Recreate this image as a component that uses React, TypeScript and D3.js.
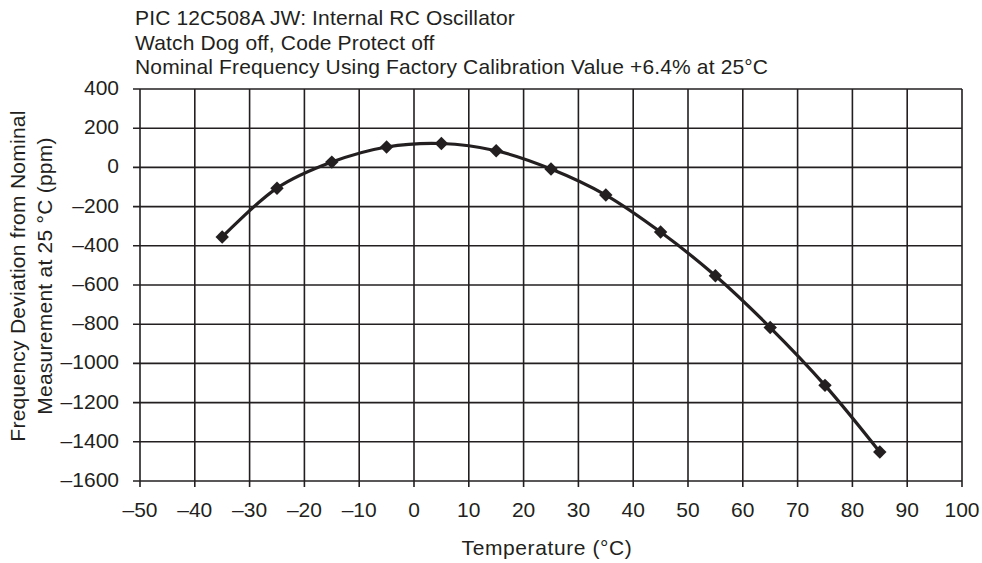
import React from "react";
import * as d3 from "d3";

const titleLines = [
  "PIC 12C508A JW: Internal RC Oscillator",
  "Watch Dog off, Code Protect off",
  "Nominal Frequency Using Factory Calibration Value +6.4% at 25°C",
];
const temperatures = [-35, -25, -15, -5, 5, 15, 25, 35, 45, 55, 65, 75, 85];
const deviation = [-355, -106, 27, 104, 122, 85, -8, -141, -330, -553, -817, -1112, -1452];
const xTicks = [-50, -40, -30, -20, -10, 0, 10, 20, 30, 40, 50, 60, 70, 80, 90, 100];
const yTicks = [400, 200, 0, -200, -400, -600, -800, -1000, -1200, -1400, -1600];
const xTitle = "Temperature (°C)";
const yTitleLines = ["Frequency Deviation from Nominal", "Measurement at 25 °C (ppm)"];

const W = 982;
const H = 563;
const left = 140;
const right = 962;
const top = 89;
const bottom = 481;
const ink = "#231f20";
const font = "'Liberation Sans', Arial, Helvetica, sans-serif";
const fs = 21;

const fmt = (t: number) => (t < 0 ? "\u2013" + Math.abs(t) : String(t));

export default function App() {
  const x = d3.scaleLinear().domain([-50, 100]).range([left, right]);
  const y = d3.scaleLinear().domain([-1600, 400]).range([bottom, top]);
  const pts: [number, number][] = temperatures.map((t, i) => [t, deviation[i]]);
  const line = d3
    .line<[number, number]>()
    .x((d) => x(d[0]))
    .y((d) => y(d[1]))
    .curve(d3.curveCatmullRom.alpha(0.5));
  const diamond = d3.symbol().type(d3.symbolDiamond2).size(115)();

  return (
    <svg
      width={W}
      height={H}
      style={{ position: "absolute", left: 0, top: 0, background: "#fff" }}
      fontFamily={font}
    >
      <rect x={0} y={0} width={W} height={H} fill="#fff" />
      {titleLines.map((t, i) => (
        <text key={i} x={135} y={25 + i * 24.5} fontSize={fs} letterSpacing={0.15} fill={ink}>
          {t}
        </text>
      ))}
      {xTicks.map((t) => (
        <line key={"vx" + t} x1={x(t)} x2={x(t)} y1={top} y2={bottom + 6} stroke={ink} strokeWidth={1.6} />
      ))}
      {yTicks.map((t) => (
        <line key={"hy" + t} x1={left - 7} x2={right} y1={y(t)} y2={y(t)} stroke={ink} strokeWidth={1.6} />
      ))}
      {xTicks.map((t) => (
        <text key={"xl" + t} x={x(t)} y={517} textAnchor="middle" fontSize={fs} fill={ink}>
          {fmt(t)}
        </text>
      ))}
      {yTicks.map((t) => (
        <text key={"yl" + t} x={119} y={y(t) + 6} textAnchor="end" fontSize={fs} fill={ink}>
          {fmt(t)}
        </text>
      ))}
      <text x={547} y={555} textAnchor="middle" fontSize={fs} letterSpacing={0.6} fill={ink}>
        {xTitle}
      </text>
      {yTitleLines.map((t, i) => (
        <text
          key={"yt" + i}
          transform={`translate(${25 + i * 27},276) rotate(-90)`}
          textAnchor="middle"
          fontSize={fs}
          letterSpacing={0.25}
          fill={ink}
        >
          {t}
        </text>
      ))}
      <path d={line(pts) || ""} fill="none" stroke={ink} strokeWidth={3.2} />
      {pts.map((d, i) => (
        <path key={"m" + i} d={diamond || ""} transform={`translate(${x(d[0])},${y(d[1])})`} fill={ink} />
      ))}
    </svg>
  );
}
